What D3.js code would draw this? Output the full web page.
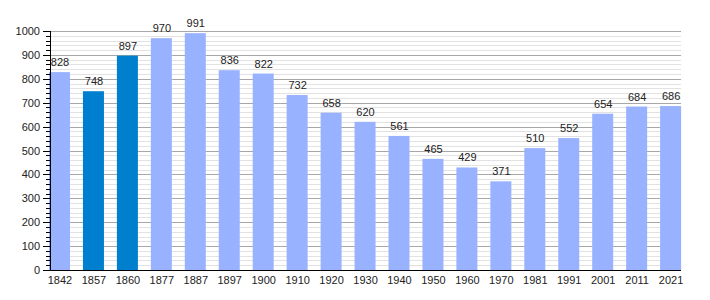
<!DOCTYPE html><html lang="en">
<head>
  <meta charset="UTF-8">
  <title>Population</title>
  <script src="https://d3js.org/d3.v7.min.js"></script>
  <style>
    body { margin: 0; background: white; }
    svg { display: block; font-family: "Liberation Sans", Arial, sans-serif; }
    .label { font-size: 11px; fill: #222; }
  </style>
</head>
<body>
<svg width="710" height="300"></svg>
<script>
const years = ["1842","1857","1860","1877","1887","1897","1900","1910","1920","1930","1940","1950","1960","1970","1981","1991","2001","2011","2021"];
const population = [828,748,897,970,991,836,822,732,658,620,561,465,429,371,510,552,654,684,686];
const darkYears = ["1857","1860"];
const yTicks = [0,100,200,300,400,500,600,700,800,900,1000];

const svg = d3.select("svg");
const plotL = 50.5, plotR = 681, plotT = 31, plotB = 270;
const barW = 21;

const x = d3.scaleBand().domain(years).range([49, 49 + 19 * 33.95]).padding(0);
const y = d3.scaleLinear().domain([0, 1000]).range([plotB, plotT]);

const data = years.map((yr, i) => ({ year: yr, value: population[i] }));

// minor gridlines every 20
svg.append("g").selectAll("line")
  .data(d3.range(20, 1001, 20).filter(v => v % 100 !== 0))
  .enter().append("line")
  .attr("x1", plotL).attr("x2", plotR)
  .attr("y1", d => Math.round(y(d)) + 0.5).attr("y2", d => Math.round(y(d)) + 0.5)
  .attr("stroke", "#e2e2e2");

// major gridlines
svg.append("g").selectAll("line")
  .data(yTicks.filter(v => v > 0))
  .enter().append("line")
  .attr("x1", plotL).attr("x2", plotR)
  .attr("y1", d => Math.round(y(d)) + 0.5).attr("y2", d => Math.round(y(d)) + 0.5)
  .attr("stroke", "#a8a8a8");

// bars
svg.append("g").selectAll("rect")
  .data(data)
  .enter().append("rect")
  .attr("x", d => x(d.year))
  .attr("width", barW)
  .attr("y", d => y(d.value))
  .attr("height", d => plotB - y(d.value))
  .attr("fill", d => darkYears.includes(d.year) ? "#007fcf" : "#99b2ff");

// value labels
svg.append("g").selectAll("text")
  .data(data)
  .enter().append("text")
  .attr("class", "label")
  .attr("x", d => x(d.year) + barW / 2 + 0.5)
  .attr("y", d => y(d.value) - 6)
  .attr("text-anchor", "middle")
  .text(d => d.value);

// y axis ticks (minor every 20)
svg.append("g").selectAll("line")
  .data(d3.range(0, 1001, 20))
  .enter().append("line")
  .attr("x1", d => d % 100 === 0 ? 43 : 46).attr("x2", plotL)
  .attr("y1", d => Math.round(y(d)) + 0.5).attr("y2", d => Math.round(y(d)) + 0.5)
  .attr("stroke", "#000");

// y tick labels
svg.append("g").selectAll("text")
  .data(yTicks)
  .enter().append("text")
  .attr("class", "label")
  .attr("x", 40)
  .attr("y", d => y(d) + 4)
  .attr("text-anchor", "end")
  .text(d => d);

// axis lines
svg.append("line").attr("x1", plotL).attr("x2", plotL).attr("y1", plotT).attr("y2", plotB + 0.5).attr("stroke", "#000");
svg.append("line").attr("x1", plotL).attr("x2", plotR).attr("y1", plotB + 0.5).attr("y2", plotB + 0.5).attr("stroke", "#000");

// x labels
svg.append("g").selectAll("text")
  .data(years)
  .enter().append("text")
  .attr("class", "label")
  .attr("x", d => x(d) + barW / 2 + 0.5)
  .attr("y", 284)
  .attr("text-anchor", "middle")
  .text(d => d);
</script>
</body>
</html>
